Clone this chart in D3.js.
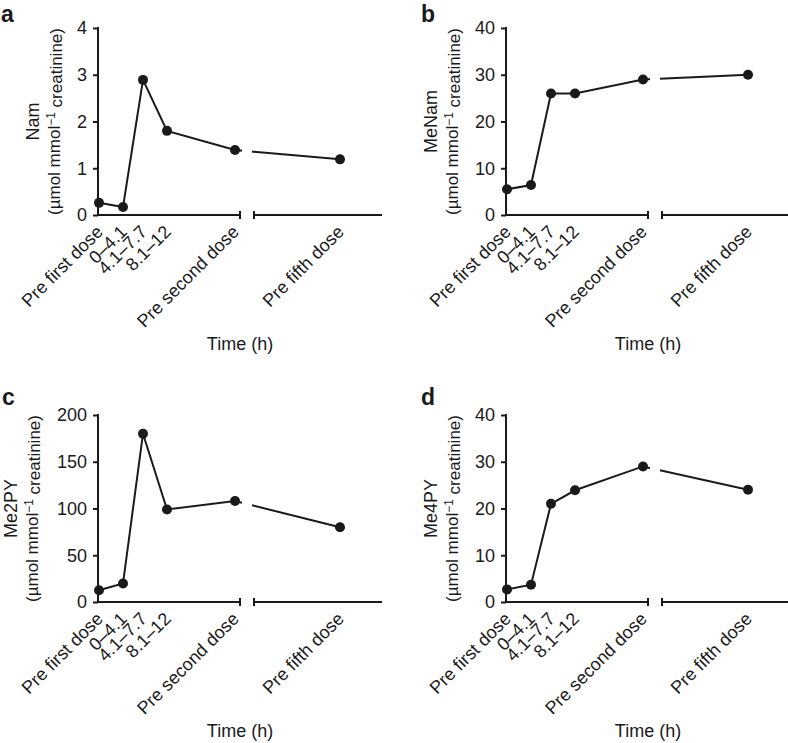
<!DOCTYPE html>
<html><head><meta charset="utf-8">
<script src="https://cdn.jsdelivr.net/npm/d3@7"></script>
<style>
html,body{margin:0;padding:0;background:#fff;}
svg text{font-family:"Liberation Sans",Arial,Helvetica,sans-serif;fill:#1a1a1a;}
</style></head>
<body><svg id="chart" width="788" height="743"></svg>
<script>
const categories = ["Pre first dose","0\u20134.1","4.1\u20137.7","8.1\u201312","Pre second dose","Pre fifth dose"];
const namValues   = [0.26, 0.17, 2.89, 1.80, 1.39, 1.19];
const meNamValues = [5.5, 6.4, 26.0, 26.0, 29.0, 30.0];
const me2pyValues = [12.5, 19.7, 180, 99, 108, 80];
const me4pyValues = [2.7, 3.7, 21.0, 23.9, 29.0, 24.0];
const namTicks   = [0,1,2,3,4];
const meNamTicks = [0,10,20,30,40];
const me2pyTicks = [0,50,100,150,200];
const me4pyTicks = [0,10,20,30,40];
const panelLetters = ["a","b","c","d"];
const yNames = ["Nam","MeNam","Me2PY","Me4PY"];
const xTitle = "Time (h)";

const panels = [
  {letter:panelLetters[0], name:yNames[0], values:namValues,   ticks:namTicks,   ox:98,  oy:28,  lx:1,   ly:22,  titleOff:59},
  {letter:panelLetters[1], name:yNames[1], values:meNamValues, ticks:meNamTicks, ox:506, oy:28,  lx:421, ly:22,  titleOff:69},
  {letter:panelLetters[2], name:yNames[2], values:me2pyValues, ticks:me2pyTicks, ox:98,  oy:415, lx:2,   ly:405, titleOff:81},
  {letter:panelLetters[3], name:yNames[3], values:me4pyValues, ticks:me4pyTicks, ox:506, oy:415, lx:421, ly:405, titleOff:69}
];

const H = 187;
const xOffsets = [1, 25, 45, 69, 137, 242];
const svg = d3.select("#chart");
const ink = "#1a1a1a";

panels.forEach((p, pi) => {
  const g = svg.append("g").attr("transform", `translate(${p.ox},${p.oy})`);
  const y = d3.scaleLinear().domain([p.ticks[0], p.ticks[p.ticks.length-1]]).range([H, 0]);
  const x = d3.scaleOrdinal().domain(categories).range(xOffsets);

  // y axis
  const ya = g.append("g").call(d3.axisLeft(y).tickValues(p.ticks).tickFormat(d3.format("d"))
    .tickSize(5).tickSizeOuter(0).tickPadding(6));
  ya.select(".domain").attr("stroke", ink).attr("stroke-width", 2).attr("d", `M0,${H+1}V-1`);
  ya.selectAll(".tick line").attr("stroke", ink).attr("stroke-width", 2);
  ya.selectAll(".tick text").attr("font-size", 18).attr("fill", ink)
    .style("font-family", '"Liberation Sans",Arial,sans-serif');

  // x axis with break
  const xa = g.append("g").attr("stroke", ink).attr("stroke-width", 2).attr("fill", "none");
  xa.append("path").attr("d", `M-1,${H}H142M142,${H-4}V${H+4}`);
  xa.append("path").attr("d", `M156,${H-4}V${H+4}M156,${H}H284`);

  // clip for broken line
  const cid = "clip" + pi;
  const cp = g.append("clipPath").attr("id", cid);
  cp.append("rect").attr("x", -10).attr("y", -20).attr("width", 154).attr("height", H + 40);
  cp.append("rect").attr("x", 154).attr("y", -20).attr("width", 200).attr("height", H + 40);

  const line = d3.line().x((d,i) => x(categories[i])).y(d => y(d));
  g.append("path").datum(p.values).attr("clip-path", `url(#${cid})`)
    .attr("d", line).attr("fill", "none").attr("stroke", ink).attr("stroke-width", 2);

  g.selectAll("circle.pt").data(p.values).enter().append("circle")
    .attr("cx", (d,i) => x(categories[i])).attr("cy", d => y(d)).attr("r", 5).attr("fill", ink);

  // x tick labels
  g.selectAll("text.xl").data(categories).enter().append("text")
    .attr("transform", d => `translate(${x(d)+5},${H+18}) rotate(-45)`)
    .attr("text-anchor", "end").attr("font-size", 18).text(d => d);

  // x title
  g.append("text").attr("x", 142).attr("y", H + 135).attr("text-anchor", "middle")
    .attr("font-size", 18).text(xTitle);

  // y title
  const yt = g.append("g").attr("transform", `translate(${-p.titleOff},${H/2}) rotate(-90)`);
  yt.append("text").attr("text-anchor", "middle").attr("y", 0).attr("font-size", 18).text(p.name);
  const t2 = yt.append("text").attr("text-anchor", "middle").attr("y", 21).attr("font-size", 17);
  t2.append("tspan").text("(\u00b5mol mmol");
  t2.append("tspan").attr("dy", "-0.45em").attr("font-size", 12).text("\u22121");
  t2.append("tspan").attr("dy", "0.45em").text(" creatinine)");

  // panel letter
  svg.append("text").attr("x", p.lx).attr("y", p.ly).attr("font-size", 23)
    .attr("font-weight", "bold").text(p.letter);
});
</script></body></html>
